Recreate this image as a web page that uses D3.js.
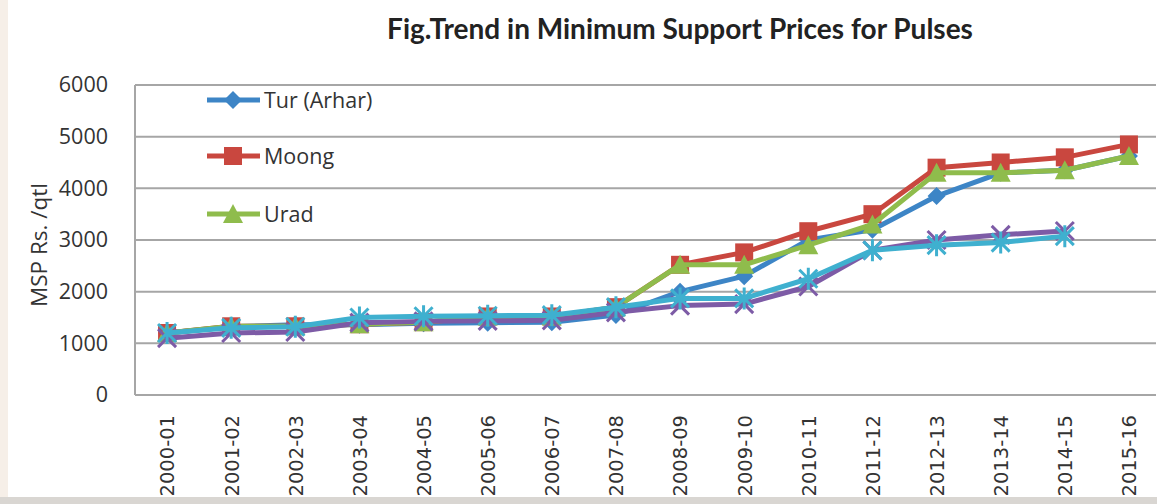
<!DOCTYPE html>
<html>
<head>
<meta charset="utf-8">
<script src="https://cdn.jsdelivr.net/npm/d3@7"></script>
<style>
  body { margin: 0; background: #fff; }
  svg { display: block; }
</style>
</head>
<body>
<div id="chart"></div>
<script>
//Data
var years = ["2000-01", "2001-02", "2002-03", "2003-04", "2004-05", "2005-06", "2006-07", "2007-08",
             "2008-09", "2009-10", "2010-11", "2011-12", "2012-13", "2013-14", "2014-15", "2015-16"];
var tur   = [1200, 1320, 1360, 1360, 1390, 1400, 1410, 1550, 2000, 2300, 3000, 3200, 3850, 4300, 4350, 4625];
var moong = [1200, 1330, 1330, 1370, 1410, 1520, 1520, 1700, 2520, 2760, 3170, 3500, 4400, 4500, 4600, 4850];
var urad  = [1200, 1330, 1330, 1370, 1410, 1520, 1520, 1700, 2520, 2520, 2900, 3300, 4300, 4300, 4350, 4625];
var gram  = [1100, 1200, 1220, 1400, 1425, 1435, 1445, 1600, 1730, 1760, 2100, 2800, 3000, 3100, 3175];
var masur = [1200, 1300, 1320, 1500, 1525, 1535, 1545, 1700, 1870, 1870, 2250, 2800, 2900, 2950, 3075];
var yTicks = [0, 1000, 2000, 3000, 4000, 5000, 6000];

var series = [
    {name: "Tur (Arhar)", values: tur,   color: "#3d85c6", marker: "diamond", legend: true},
    {name: "Moong",       values: moong, color: "#c9473f", marker: "square",  legend: true},
    {name: "Urad",        values: urad,  color: "#8fbc4c", marker: "triangle", legend: true},
    {name: "Gram",        values: gram,  color: "#7d5ba6", marker: "cross",   legend: false},
    {name: "Masur",       values: masur, color: "#3fb0cf", marker: "star",    legend: false}
];

var width = 1157, height = 504;
var plot = {left: 135, right: 1161, top: 85, bottom: 395};

var svg = d3.select("#chart").append("svg")
    .attr("width", width)
    .attr("height", height);

//Frame strips of the original screenshot
svg.append("rect").attr("x", 0).attr("y", 0).attr("width", 8).attr("height", height).attr("fill", "#f6efe8");
svg.append("rect").attr("x", 0).attr("y", 497).attr("width", width).attr("height", 7).attr("fill", "#d9d6d2");

var x = d3.scalePoint()
    .domain(years)
    .range([plot.left, plot.right])
    .padding(0.5);

var y = d3.scaleLinear()
    .domain([0, 6000])
    .range([plot.bottom, plot.top]);

//Gridlines
svg.append("g").selectAll("line")
    .data(yTicks)
    .enter().append("line")
    .attr("x1", plot.left)
    .attr("x2", 1156)
    .attr("y1", function (d) { return y(d); })
    .attr("y2", function (d) { return y(d); })
    .attr("stroke", "#a6a6a6")
    .attr("stroke-width", 2);

svg.append("line")
    .attr("x1", plot.left).attr("x2", plot.left)
    .attr("y1", plot.top).attr("y2", plot.bottom)
    .attr("stroke", "#a6a6a6").attr("stroke-width", 2);

//Y axis
var yAxis = svg.append("g")
    .attr("transform", "translate(" + (plot.left - 27) + ",0)")
    .call(d3.axisLeft(y).tickValues(yTicks).tickFormat(d3.format("d")).tickSize(0).tickPadding(0));
yAxis.select(".domain").remove();
yAxis.selectAll("text")
    .attr("font-family", "'Open Sans', sans-serif")
    .attr("font-size", 21.5)
    .attr("fill", "#333");

//X axis (rotated labels)
var xAxis = svg.append("g")
    .attr("transform", "translate(0," + plot.bottom + ")")
    .call(d3.axisBottom(x).tickSize(0).tickPadding(0));
xAxis.select(".domain").remove();
xAxis.selectAll("text")
    .attr("font-family", "'DejaVu Sans', sans-serif")
    .attr("font-size", 19.5)
    .attr("fill", "#333")
    .attr("text-anchor", "end")
    .attr("dy", "0.35em")
    .attr("transform", "translate(0,20) rotate(-90)");

//Titles
svg.append("text")
    .attr("x", 680).attr("y", 39)
    .attr("text-anchor", "middle")
    .attr("font-family", "Lato, sans-serif")
    .attr("font-weight", "bold")
    .attr("font-size", 28)
    .attr("fill", "#222")
    .text("Fig.Trend in Minimum  Support Prices for Pulses");

svg.append("text")
    .attr("transform", "translate(47,245) rotate(-90)")
    .attr("text-anchor", "middle")
    .attr("font-family", "'Open Sans', sans-serif")
    .attr("font-size", 22.5)
    .attr("fill", "#333")
    .text("MSP Rs. /qtl");

//Marker shapes
function drawMarker(g, type, color) {
    if (type === "diamond") {
        g.append("path").attr("d", "M0,-9L9,0L0,9L-9,0Z").attr("fill", color);
    } else if (type === "square") {
        g.append("rect").attr("x", -9).attr("y", -9).attr("width", 18).attr("height", 18).attr("fill", color);
    } else if (type === "triangle") {
        g.append("path").attr("d", "M0,-10L10,9L-10,9Z").attr("fill", color);
    } else if (type === "cross") {
        g.append("path").attr("d", "M-9,-9L9,9M-9,9L9,-9").attr("stroke", color).attr("stroke-width", 3);
    } else if (type === "star") {
        g.append("path").attr("d", "M-9,-9L9,9M-9,9L9,-9M0,-11L0,11").attr("stroke", color).attr("stroke-width", 3);
    }
}

var line = d3.line()
    .x(function (d, i) { return x(years[i]); })
    .y(function (d) { return y(d); });

series.forEach(function (s) {
    var g = svg.append("g");
    g.append("path")
        .attr("d", line(s.values))
        .attr("fill", "none")
        .attr("stroke", s.color)
        .attr("stroke-width", 5)
        .attr("stroke-linejoin", "round");
    s.values.forEach(function (v, i) {
        var m = g.append("g").attr("transform", "translate(" + x(years[i]) + "," + y(v) + ")");
        drawMarker(m, s.marker, s.color);
    });
});

//Legend (only the first three series are shown)
var legendY = [100, 156, 214];
series.filter(function (s) { return s.legend; }).forEach(function (s, i) {
    var lg = svg.append("g").attr("transform", "translate(0," + legendY[i] + ")");
    lg.append("line")
        .attr("x1", 207).attr("x2", 260)
        .attr("stroke", s.color).attr("stroke-width", 5);
    drawMarker(lg.append("g").attr("transform", "translate(233,0)"), s.marker, s.color);
    lg.append("text")
        .attr("x", 264).attr("dy", "0.35em")
        .attr("font-family", "'Open Sans', sans-serif")
        .attr("font-size", 21.5)
        .attr("fill", "#333")
        .text(s.name);
});
</script>
</body>
</html>
